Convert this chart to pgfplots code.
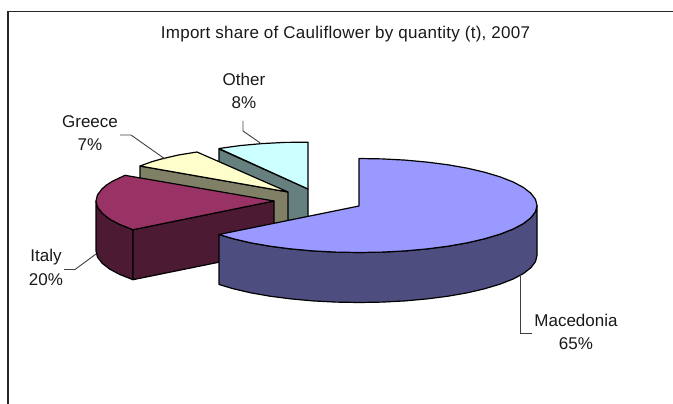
\documentclass[border=0pt]{standalone}
\usepackage{fontspec}
\setmainfont{Liberation Sans}
\usepackage{pgfplots}
\pgfplotsset{compat=1.18}
\definecolor{medTop}{HTML}{9999FF}
\definecolor{medSide}{HTML}{4D4D80}
\definecolor{itaTop}{HTML}{993366}
\definecolor{itaSide}{HTML}{4D1A33}
\definecolor{greTop}{HTML}{FFFFCC}
\definecolor{greSide}{HTML}{808066}
\definecolor{othTop}{HTML}{CCFFFF}
\definecolor{othSide}{HTML}{668080}
\definecolor{leader}{HTML}{404040}
\tikzset{
  pie/.style={draw=black, line width=1.2pt, mark=none, line join=round},
  lead/.style={draw=leader, line width=0.9pt, mark=none},
  lab/.style={font=\fontsize{17}{19}\selectfont, color=black!90, align=center, inner sep=0pt},
}
\begin{document}
\begin{tikzpicture}
\begin{axis}[
  scale only axis, width=673pt, height=404pt,
  xmin=0, xmax=673, ymin=0, ymax=404, y dir=reverse,
  hide axis, clip=true,
]
% page extent
\path (axis cs:0,0) (axis cs:673,404);
% outer frame
\addplot[draw=black!85, line width=1.8pt, mark=none] coordinates {(8,404) (8,11.5) (673,11.5)};
% Other
\addplot[pie, fill=othSide] coordinates {(219,149) (308,189) (308,239) (219,199)} -- cycle;
\addplot[pie, fill=othTop] coordinates {(308,189) (219,148.5) (239.9,145.6) (261.9,143.6) (284.8,142.4) (308,142.2)} -- cycle;
% Greece
\addplot[pie, fill=greSide] coordinates {(140,166) (288,192) (288,242) (140,216)} -- cycle;
\addplot[pie, fill=greTop] coordinates {(288,192) (140,166) (151.6,161.8) (162.1,158.8) (178.4,155) (197,152)} -- cycle;
% Italy
\addplot[pie, fill=itaSide] coordinates {(133,229.7) (119.8,224.5) (109.5,219) (102.1,213.2) (97.5,207.1) (96,201) (96,251) (97.5,257.1) (102.1,263.2) (109.5,269) (119.8,274.5) (133,279.7)} -- cycle;
\addplot[pie, fill=itaSide] coordinates {(274,201) (133,229.7) (133,279.7) (274,251)} -- cycle;
\addplot[pie, fill=itaTop] coordinates {(274,201) (133,229.7) (119.8,224.5) (109.5,219) (102.1,213.2) (97.5,207.1) (96,201) (97.5,194.9) (102.1,188.8) (106.7,184.9) (112.7,181.1) (125,175.3)} -- cycle;
% Macedonia
\addplot[pie, fill=medSide] coordinates {(537,205.5) (535.5,211.6) (530.9,217.7) (523.5,223.5) (513.2,229) (500.2,234.1) (484.9,238.7) (467.4,242.8) (448,246.2) (427.1,248.9) (405.1,250.9) (382.2,252.1) (359,252.5) (335.8,252.1) (312.9,250.9) (290.9,248.9) (270,246.2) (250.6,242.8) (233.1,238.7) (219,234.5) (219,284.5) (233.1,288.7) (250.6,292.8) (270,296.2) (290.9,298.9) (312.9,300.9) (335.8,302.1) (359,302.5) (382.2,302.1) (405.1,300.9) (427.1,298.9) (448,296.2) (467.4,292.8) (484.9,288.7) (500.2,284.1) (513.2,279) (523.5,273.5) (530.9,267.7) (535.5,261.6) (537,255.5)} -- cycle;
\addplot[pie, fill=medTop] coordinates {(359,206) (359,158.5) (382.2,158.9) (405.1,160.1) (427.1,162.1) (448,164.8) (467.4,168.2) (484.9,172.3) (500.2,176.9) (513.2,182) (523.5,187.5) (530.9,193.3) (535.5,199.4) (537,205.5) (535.5,211.6) (530.9,217.7) (523.5,223.5) (513.2,229) (500.2,234.1) (484.9,238.7) (467.4,242.8) (448,246.2) (427.1,248.9) (405.1,250.9) (382.2,252.1) (359,252.5) (335.8,252.1) (312.9,250.9) (290.9,248.9) (270,246.2) (250.6,242.8) (233.1,238.7) (219,234.5)} -- cycle;
% leader lines
\addplot[lead] coordinates {(520,275) (520,333) (532,333)};
\addplot[lead] coordinates {(96,254) (75,269.5) (64,269.5)};
\addplot[lead] coordinates {(120,135) (131,135) (165,159)};
\addplot[lead] coordinates {(243,121) (243,131) (261,143.5)};
% texts
\node[lab] at (axis cs:345.5,34) {\addfontfeature{LetterSpace=1.6}Import share of Cauliflower by quantity (t), 2007};
\node[lab] at (axis cs:576,320) {Macedonia};
\node[lab] at (axis cs:576,344) {65\%};
\node[lab] at (axis cs:46,257) {Italy};
\node[lab] at (axis cs:46,280) {20\%};
\node[lab] at (axis cs:90,122) {Greece};
\node[lab] at (axis cs:90,145) {7\%};
\node[lab] at (axis cs:244,79) {Other};
\node[lab] at (axis cs:244,103) {8\%};
\end{axis}
\end{tikzpicture}
\end{document}
